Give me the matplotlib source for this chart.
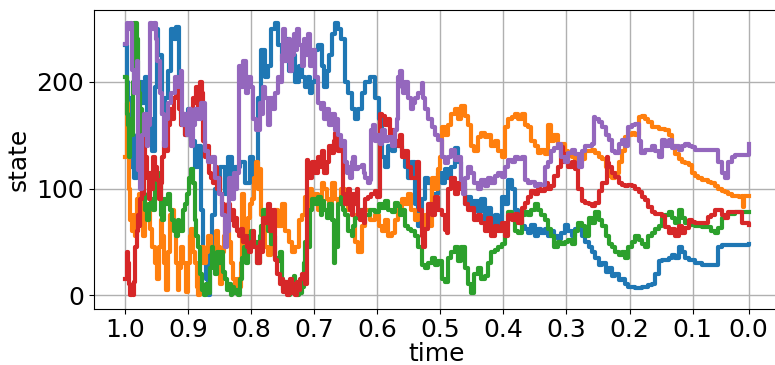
import numpy as np
import matplotlib
matplotlib.use("Agg")
import matplotlib.pyplot as plt

# (step, state) readings for each trajectory; step 0 = time 1.0, step 989 = time 0.0
blue = [(0,235),(2,200),(5,185),(7,120),(10,150),(14,110),(18,140),(23,200),(27,180),(31,205),(35,150),(39,165),(43,135),(47,195),(50,250),(52,225),(58,170),(63,185),(68,210),(72,250),(78,240),(81,252),(85,200),(89,170),(95,150),(100,175),(105,145),(111,120),(116,140),(120,80),(124,30),(128,15),(131,0),(134,40),(137,75),(142,100),(150,120),(158,95),(163,130),(169,110),(174,120),(182,125),(190,105),(198,130),(203,110),(206,115),(210,185),(213,175),(216,230),(221,205),(227,215),(232,250),(238,255),(243,235),(248,220),(254,240),(259,210),(264,225),(269,200),(275,215),(280,205),(285,195),(290,205),(293,190),(297,200),(301,230),(306,235),(312,215),(316,195),(320,210),(324,225),(328,245),(333,255),(338,250),(343,240),(349,200),(354,190),(359,175),(365,165),(370,175),(375,190),(380,200),(388,205),(396,185),(402,165),(407,130),(412,120),(417,140),(423,135),(428,145),(433,140),(439,135),(444,120),(449,110),(454,125),(460,85),(465,65),(470,90),(475,110),(480,105),(486,80),(491,95),(496,115),(502,105),(507,118),(512,110),(517,120),(523,138),(528,125),(533,105),(539,85),(544,92),(549,80),(554,88),(560,78),(565,90),(570,70),(576,82),(581,68),(586,75),(592,65),(597,92),(602,85),(607,108),(613,100),(618,80),(623,70),(629,65),(634,62),(639,58),(644,66),(650,55),(655,62),(660,58),(666,62),(671,55),(676,60),(681,55),(687,53),(692,58),(697,66),(703,60),(708,55),(713,62),(724,55),(730,50),(735,45),(740,40),(746,35),(751,28),(756,30),(762,22),(767,25),(772,18),(777,20),(783,14),(788,15),(793,10),(798,8),(809,7),(820,8),(830,9),(836,10),(841,20),(846,32),(851,33),(862,35),(867,38),(872,35),(878,45),(883,40),(888,35),(894,33),(904,30),(915,28),(936,28),(940,45),(947,47),(968,47),(989,48)]

orange = [(0,130),(2,180),(4,150),(6,100),(8,70),(10,60),(13,75),(16,55),(19,90),(22,95),(25,70),(28,55),(31,85),(34,75),(37,80),(40,62),(43,45),(47,30),(50,15),(53,45),(56,70),(59,55),(62,30),(65,5),(68,40),(71,75),(74,80),(77,60),(80,30),(83,5),(86,25),(89,45),(92,30),(96,3),(99,30),(102,55),(105,62),(108,40),(111,30),(114,8),(116,0),(119,30),(122,45),(125,30),(128,40),(132,55),(136,45),(140,40),(144,60),(147,45),(150,10),(153,40),(156,55),(159,70),(162,60),(165,50),(168,30),(171,15),(174,5),(177,15),(180,8),(183,30),(186,95),(189,60),(192,45),(195,72),(198,85),(201,90),(204,110),(207,125),(210,100),(213,118),(216,75),(221,45),(227,38),(232,78),(238,80),(243,65),(248,85),(254,60),(259,50),(264,40),(269,45),(275,70),(280,75),(285,92),(290,80),(293,100),(297,88),(301,95),(306,80),(312,105),(316,100),(320,90),(324,80),(328,105),(333,90),(338,85),(343,100),(349,95),(354,80),(359,75),(365,50),(370,40),(375,65),(380,80),(388,70),(396,75),(402,65),(407,60),(412,70),(417,55),(423,58),(428,70),(433,80),(439,90),(444,85),(449,95),(454,80),(460,70),(465,75),(470,65),(475,75),(480,65),(486,110),(491,100),(496,118),(500,130),(502,158),(507,150),(512,160),(517,170),(523,175),(528,165),(533,177),(539,168),(544,160),(549,140),(554,135),(560,148),(565,152),(570,148),(576,150),(581,140),(586,145),(592,135),(597,130),(602,158),(607,165),(613,167),(618,170),(623,165),(629,170),(634,160),(639,158),(644,145),(650,140),(655,133),(660,136),(666,132),(671,160),(676,145),(681,150),(687,140),(692,142),(697,135),(703,132),(708,130),(713,128),(718,125),(724,128),(730,135),(740,136),(746,133),(751,130),(756,128),(762,120),(767,112),(772,110),(777,115),(783,125),(788,135),(793,148),(798,150),(804,152),(809,150),(815,167),(820,168),(825,165),(830,162),(836,158),(846,156),(856,155),(862,150),(867,140),(872,132),(878,128),(883,125),(888,124),(894,122),(899,115),(904,112),(909,110),(915,108),(925,106),(930,105),(936,102),(941,100),(947,98),(952,97),(957,95),(962,93),(973,92),(978,93),(980,83),(982,93),(989,93)]

green = [(0,205),(2,170),(4,160),(6,130),(8,165),(10,150),(12,200),(14,255),(16,255),(18,240),(20,200),(22,190),(24,175),(26,150),(28,130),(30,95),(32,80),(35,70),(38,85),(41,90),(44,80),(47,100),(50,115),(53,105),(56,75),(59,70),(62,90),(65,85),(68,95),(71,80),(74,70),(77,60),(80,55),(83,70),(86,65),(89,60),(92,80),(95,85),(98,95),(101,110),(104,118),(107,105),(110,70),(113,55),(116,45),(119,20),(122,5),(125,0),(128,10),(131,2),(134,25),(137,45),(140,35),(143,20),(146,40),(149,30),(152,40),(155,22),(158,15),(161,5),(164,10),(167,0),(170,8),(173,2),(176,5),(179,0),(182,15),(185,35),(188,45),(191,30),(194,40),(197,55),(200,60),(203,48),(206,50),(209,30),(213,55),(216,65),(219,80),(224,75),(227,60),(232,48),(235,55),(238,35),(243,32),(246,40),(248,15),(251,5),(254,12),(259,0),(262,8),(264,3),(267,18),(270,5),(273,0),(275,10),(278,2),(280,8),(283,30),(285,50),(290,45),(293,80),(297,90),(301,85),(306,92),(310,75),(312,88),(316,80),(320,72),(324,85),(328,70),(331,30),(333,45),(338,85),(343,92),(346,80),(349,75),(354,60),(359,55),(362,65),(365,72),(370,80),(375,70),(380,75),(388,80),(396,78),(402,85),(407,82),(412,88),(417,80),(423,78),(428,86),(433,84),(436,75),(439,80),(444,65),(449,62),(454,60),(460,55),(465,45),(470,28),(475,25),(480,30),(486,35),(491,28),(496,32),(502,15),(507,12),(512,35),(517,40),(523,45),(528,32),(533,45),(539,25),(544,10),(549,2),(554,20),(560,25),(565,15),(570,18),(576,30),(581,40),(586,42),(592,45),(597,48),(602,65),(607,78),(613,72),(618,60),(623,58),(629,75),(634,78),(639,75),(644,80),(650,85),(655,80),(660,75),(666,70),(671,62),(676,55),(681,45),(687,50),(692,48),(697,50),(703,52),(708,48),(713,60),(718,68),(724,65),(729,55),(735,72),(740,68),(746,78),(751,70),(756,65),(762,55),(767,48),(772,45),(777,40),(783,38),(788,40),(793,35),(798,45),(804,50),(809,55),(815,52),(820,48),(825,45),(830,55),(836,58),(841,62),(846,65),(851,72),(856,75),(862,78),(867,72),(872,68),(878,80),(883,72),(888,68),(894,66),(904,65),(915,64),(925,64),(930,60),(936,58),(941,63),(947,72),(952,75),(957,76),(968,78),(989,78)]

red = [(0,15),(2,40),(4,30),(6,10),(8,0),(10,5),(12,0),(14,12),(16,45),(18,60),(20,75),(22,65),(24,90),(26,105),(28,95),(30,165),(32,130),(34,110),(37,90),(40,115),(42,100),(44,130),(47,120),(50,108),(53,90),(56,105),(59,130),(62,145),(65,135),(68,160),(71,175),(74,165),(77,185),(80,200),(83,190),(86,175),(89,160),(92,170),(95,150),(98,165),(101,155),(104,175),(107,185),(110,180),(113,195),(116,175),(119,200),(121,190),(124,145),(127,130),(130,140),(133,115),(136,110),(139,105),(142,120),(145,100),(148,110),(151,95),(154,85),(157,80),(160,75),(163,85),(166,70),(169,80),(172,65),(175,72),(178,60),(181,55),(184,62),(187,50),(190,55),(193,45),(196,40),(199,50),(202,60),(205,45),(209,30),(213,50),(216,40),(219,72),(224,68),(227,85),(230,60),(235,80),(238,33),(241,20),(246,10),(248,15),(251,3),(254,12),(256,0),(259,8),(262,15),(264,2),(267,10),(270,0),(273,12),(275,5),(278,15),(280,20),(285,10),(288,127),(290,120),(293,110),(297,125),(301,115),(306,130),(310,120),(312,135),(316,115),(320,125),(324,140),(328,133),(331,145),(333,152),(336,140),(338,135),(343,145),(346,95),(349,85),(352,92),(354,100),(357,80),(359,75),(362,95),(365,85),(367,100),(370,75),(373,70),(375,80),(378,68),(380,90),(385,92),(390,95),(396,98),(400,92),(404,170),(407,168),(412,160),(417,165),(420,150),(423,155),(428,145),(433,140),(436,150),(439,130),(444,135),(449,120),(454,110),(460,110),(463,125),(466,80),(470,55),(473,45),(476,62),(480,85),(486,75),(491,92),(496,80),(502,75),(507,61),(510,58),(512,100),(517,110),(523,95),(528,105),(533,100),(539,85),(544,80),(549,82),(554,70),(560,75),(565,68),(570,60),(576,72),(581,55),(586,65),(592,60),(597,68),(602,55),(607,75),(613,70),(618,76),(623,68),(629,82),(634,86),(639,92),(644,98),(650,95),(655,100),(660,98),(666,105),(671,100),(676,102),(681,112),(687,120),(692,139),(695,125),(697,132),(703,120),(708,125),(713,118),(718,100),(724,88),(730,86),(735,85),(740,84),(746,86),(751,98),(756,105),(764,130),(766,124),(767,120),(772,115),(777,111),(783,105),(788,103),(793,102),(798,103),(804,102),(809,100),(815,97),(820,92),(825,89),(830,83),(836,78),(841,76),(851,74),(856,64),(862,58),(867,62),(872,55),(878,65),(883,58),(888,63),(894,70),(899,69),(904,68),(920,68),(925,73),(930,75),(936,80),(941,80),(947,75),(952,72),(957,78),(976,78),(979,68),(989,66)]

purple = [(0,236),(2,255),(5,250),(8,255),(10,211),(14,190),(18,220),(21,117),(24,100),(26,150),(30,170),(34,140),(36,160),(39,255),(42,250),(46,255),(49,240),(51,220),(55,190),(58,170),(61,140),(65,165),(68,180),(72,190),(79,205),(84,195),(88,210),(90,160),(95,170),(98,150),(101,175),(104,140),(108,160),(111,175),(116,165),(120,180),(126,135),(132,125),(137,130),(142,110),(148,95),(153,75),(158,45),(161,60),(164,110),(169,90),(172,115),(174,100),(178,115),(180,215),(184,195),(187,220),(192,190),(195,205),(199,195),(203,165),(208,155),(213,180),(216,170),(219,195),(222,185),(227,160),(230,185),(235,175),(238,190),(243,205),(246,200),(248,225),(251,250),(254,220),(259,240),(262,210),(264,225),(267,245),(270,230),(273,250),(275,235),(280,215),(283,240),(285,225),(290,245),(293,215),(297,230),(301,205),(306,180),(310,175),(312,180),(316,165),(320,175),(324,160),(328,170),(333,155),(336,165),(338,150),(343,140),(346,145),(349,125),(352,115),(354,120),(357,110),(359,125),(362,130),(365,118),(370,120),(375,122),(378,115),(380,110),(385,105),(388,108),(390,155),(393,160),(396,145),(400,150),(404,142),(407,155),(412,145),(417,148),(423,140),(428,155),(431,165),(433,205),(436,210),(439,195),(441,190),(444,200),(449,185),(454,175),(457,180),(460,185),(465,190),(470,199),(473,185),(475,175),(480,165),(486,158),(491,150),(496,146),(502,130),(507,124),(512,130),(517,136),(523,127),(528,130),(533,108),(536,95),(539,110),(544,120),(549,115),(554,105),(560,100),(565,108),(570,102),(576,110),(581,105),(586,112),(592,115),(597,111),(602,120),(607,127),(613,125),(618,130),(623,128),(629,130),(634,108),(639,105),(644,106),(650,102),(655,104),(660,103),(666,120),(671,125),(676,135),(681,138),(687,142),(692,130),(697,125),(703,133),(708,136),(713,132),(720,120),(724,135),(730,140),(740,142),(743,167),(746,165),(751,162),(756,158),(762,150),(767,146),(772,135),(777,133),(783,142),(788,146),(793,140),(798,158),(804,160),(809,161),(815,145),(818,133),(825,136),(830,136),(836,140),(841,135),(846,130),(851,146),(856,140),(862,146),(867,138),(872,140),(878,136),(883,140),(888,142),(894,140),(899,139),(904,136),(936,136),(941,125),(947,115),(952,110),(957,125),(962,130),(968,131),(986,131),(989,142)]

tick_steps = [0, 100, 200, 300, 400, 500, 600, 700, 800, 900, 989]
tick_labels = ['1.0', '0.9', '0.8', '0.7', '0.6', '0.5', '0.4', '0.3', '0.2', '0.1', '0.0']

fig = plt.figure(figsize=(7.75, 3.65), dpi=100)
ax = fig.add_axes([0.1214, 0.1545, 0.8848, 0.8186])
ax.grid(True, color='#b0b0b0', linewidth=1)
ax.set_axisbelow(True)

for pts, c in zip([blue, orange, green, red, purple],
                  ['C0', 'C1', 'C2', 'C3', 'C4']):
    arr = np.array(pts)
    ax.plot(arr[:, 0], arr[:, 1], color=c, lw=3, drawstyle='steps-post')

ax.set_xticks(tick_steps)
ax.set_xticklabels(tick_labels)
ax.set_yticks([0, 100, 200])
ax.tick_params(labelsize=18)
ax.set_xlabel('time', fontsize=18, labelpad=0)
ax.set_ylabel('state', fontsize=18)

fig.savefig('out.png', dpi=100)
